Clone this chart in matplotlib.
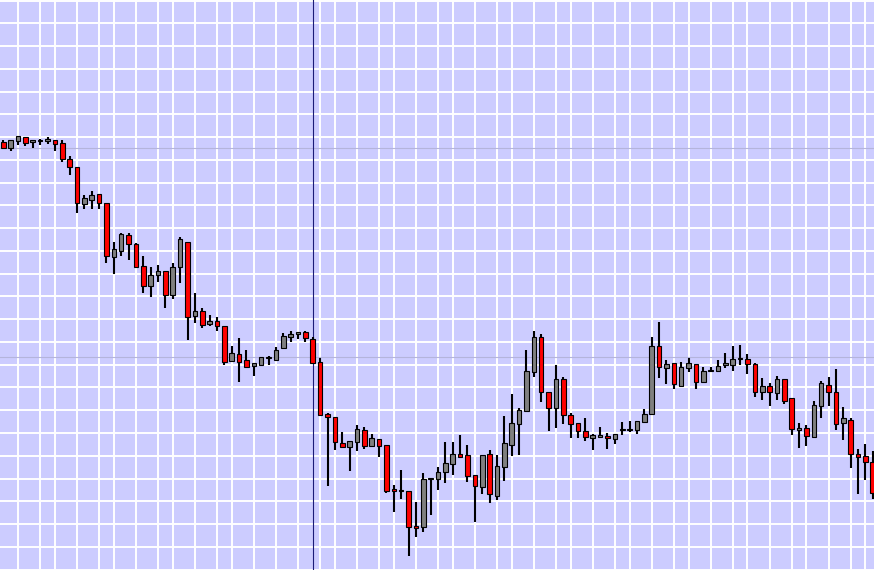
import numpy as np
import matplotlib
matplotlib.use('Agg')
import matplotlib.pyplot as plt

# OHLC values, one entry per candle
opens = [457.7, 452.3, 459.3, 462.7, 458.0, 459.3, 458.7, 460.0, 456.7, 440.7,
         432.7, 396.3, 400.3, 405.7, 396.7, 342.7, 349.3, 365.0, 356.0, 334.0,
         314.3, 325.3, 328.7, 305.3, 333.3, 357.7, 283.7, 288.7, 276.3, 278.7,
         273.7, 239.0, 246.0, 240.0, 233.7, 235.0, 242.3, 240.3, 252.3, 263.3,
         265.7, 267.7, 260.7, 237.7, 185.7, 182.7, 156.7, 153.3, 158.3, 169.7,
         154.3, 160.7, 154.7, 110.7, 110.0, 108.7, 73.7, 73.3, 120.7, 121.3,
         128.3, 136.3, 145.7, 145.0, 125.0, 113.3, 145.7, 104.3, 133.3, 155.0,
         175.7, 189.3, 228.3, 262.7, 208.0, 192.3, 220.7, 185.3, 176.7, 169.0,
         161.7, 163.3, 164.0, 161.3, 169.7, 170.0, 170.3, 178.0, 185.7, 254.0,
         232.3, 236.7, 214.0, 232.3, 235.7, 218.3, 229.0, 229.3, 235.5, 234.7,
         241.0, 240.7, 236.0, 207.7, 214.0, 206.7, 221.0, 201.7, 170.5, 171.8,
         163.0, 194.5, 215.5, 207.7, 176.7, 179.7, 145.8, 143.8, 137.7]
highs = [459.7, 459.7, 463.7, 462.7, 460.0, 461.3, 463.0, 460.0, 460.0, 443.7,
         432.7, 405.0, 409.0, 405.7, 396.7, 358.0, 366.7, 366.7, 356.7, 344.0,
         333.0, 335.0, 328.7, 336.7, 362.7, 357.7, 307.0, 291.7, 285.0, 282.7,
         273.7, 254.3, 262.0, 250.0, 237.0, 242.7, 244.0, 253.0, 266.7, 269.0,
         268.3, 269.0, 262.7, 241.7, 186.7, 182.7, 167.7, 158.7, 175.0, 172.7,
         166.0, 160.7, 154.7, 115.0, 129.7, 108.7, 97.7, 126.7, 121.7, 133.0,
         157.7, 157.7, 164.7, 154.7, 125.0, 145.0, 149.7, 145.0, 183.7, 206.0,
         191.7, 250.0, 269.0, 265.7, 208.0, 235.0, 223.3, 186.7, 176.7, 182.3,
         165.7, 173.0, 167.0, 165.7, 178.0, 179.0, 179.0, 191.3, 263.3, 278.0,
         240.0, 236.7, 237.7, 241.7, 235.7, 233.3, 233.3, 240.0, 247.0, 254.3,
         255.0, 246.0, 237.3, 222.0, 216.7, 224.3, 221.0, 201.7, 176.7, 175.5,
         198.8, 219.2, 223.0, 231.0, 192.8, 181.7, 151.0, 155.8, 148.8]
lows = [451.0, 449.0, 455.0, 454.3, 452.3, 455.0, 456.3, 449.3, 438.3, 425.0,
        387.3, 391.0, 391.3, 391.3, 337.3, 326.3, 344.3, 340.3, 332.3, 307.3,
        303.3, 318.3, 292.3, 301.3, 317.3, 260.0, 277.3, 272.3, 274.0, 269.0,
        235.3, 238.3, 218.3, 232.3, 224.3, 234.3, 235.0, 240.0, 251.3, 257.7,
        260.7, 258.3, 235.7, 184.0, 114.3, 150.3, 153.3, 129.3, 149.3, 151.3,
        154.3, 143.3, 107.3, 88.3, 101.3, 44.3, 63.3, 67.7, 85.0, 110.0,
        117.3, 125.3, 143.3, 118.3, 78.3, 106.3, 97.3, 100.0, 119.3, 144.0,
        145.0, 189.3, 222.7, 198.3, 169.3, 172.3, 176.3, 162.3, 162.3, 159.3,
        150.0, 161.7, 151.3, 156.3, 165.3, 168.3, 166.3, 177.3, 185.7, 222.5,
        216.3, 211.3, 212.7, 227.7, 211.3, 217.0, 227.7, 228.3, 232.5, 229.3,
        235.5, 226.0, 203.3, 200.0, 194.3, 200.0, 196.3, 165.3, 152.5, 154.0,
        162.7, 182.0, 194.0, 170.0, 160.0, 132.3, 106.0, 120.0, 101.3]
closes = [452.3, 459.7, 463.7, 457.3, 460.0, 459.7, 461.0, 455.7, 440.7, 432.7,
          396.7, 402.0, 405.0, 397.3, 343.7, 350.7, 366.0, 355.7, 333.3, 314.3,
          325.0, 328.7, 304.7, 333.0, 360.7, 282.7, 288.7, 275.3, 278.7, 273.7,
          238.3, 247.0, 238.3, 233.3, 237.0, 242.7, 243.0, 249.7, 263.7, 266.0,
          267.7, 261.7, 237.3, 185.0, 182.7, 158.3, 153.3, 158.7, 170.7, 154.3,
          162.0, 154.3, 109.3, 109.7, 109.5, 73.3, 73.0, 120.7, 121.3, 128.3,
          136.7, 145.7, 143.3, 124.3, 114.3, 145.0, 105.7, 134.0, 156.7, 176.7,
          190.0, 229.0, 262.7, 207.7, 191.7, 220.7, 185.3, 175.7, 168.7, 162.7,
          165.0, 165.0, 162.0, 165.7, 170.3, 170.7, 179.0, 186.0, 254.0, 233.3,
          236.0, 216.3, 232.7, 236.7, 218.3, 228.7, 229.5, 234.0, 236.0, 240.7,
          241.5, 236.5, 207.7, 214.0, 207.7, 221.0, 199.0, 170.7, 171.0, 164.3,
          194.7, 216.7, 207.7, 175.7, 181.7, 146.5, 142.7, 137.7, 107.5]

# candle indices where the vertical grid lines fall
grid_idx = [2, 5, 7, 10, 13, 15, 18, 21, 23, 26, 29, 31, 34, 37, 40, 43, 45,
            48, 51, 53, 56, 59, 61, 64, 67, 69, 72, 75, 77, 80, 83, 85, 88, 91,
            93, 96, 99, 101, 104, 107, 109, 112, 115, 117]
marker_idx = 42.07          # dark vertical marker line
ref_levels = [451.7, 242.7]  # faint horizontal reference lines

opens = np.array(opens)
highs = np.array(highs)
lows = np.array(lows)
closes = np.array(closes)
x = np.arange(len(opens))

fig = plt.figure(figsize=(8.74, 5.70), dpi=100)
ax = fig.add_axes([0, 0, 1, 1])
ax.set_facecolor('#ccccff')

ax.set_xlim(-0.448, 118.17)
ax.set_ylim(30, 600)

# grid
ax.set_xticks(grid_idx)
ax.set_yticks(600 - 0.54 - 22.76 * np.arange(26))
ax.grid(True, color='white', linewidth=1.4, zorder=0)
ax.set_axisbelow(True)
ax.tick_params(left=False, bottom=False, labelleft=False, labelbottom=False)
for s in ax.spines.values():
    s.set_visible(False)

for lvl in ref_levels:
    ax.axhline(lvl, color='#b4b4dc', linewidth=0.8, zorder=1)
ax.axvline(marker_idx, color='#1c1c78', linewidth=0.8, zorder=1)

# candles
up = closes >= opens
colors = np.where(up, '#808080', '#ff0000')
ax.vlines(x, lows, highs, color='black', linewidth=1.5, zorder=2)
heights = closes - opens
heights = np.where(np.abs(heights) < 1.2, np.where(up, 1.2, -1.2), heights)
ax.bar(x, heights, bottom=opens, width=0.62, color=colors,
       edgecolor='black', linewidth=0.8, zorder=3)

fig.savefig('out.png', dpi=100)
